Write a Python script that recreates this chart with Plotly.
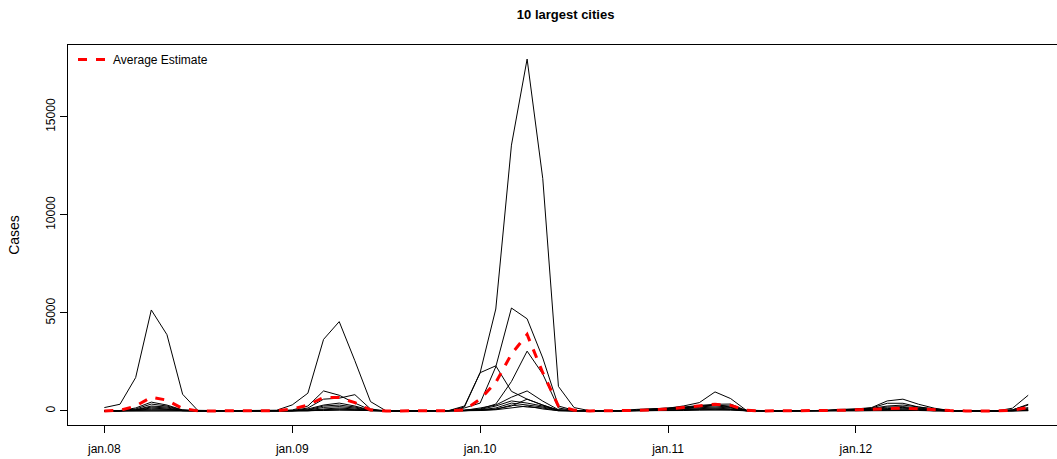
import plotly.graph_objects as go

# ---- data (monthly cases, jan.08 .. dec.12) ----
months = [f"{m}.{y:02d}" for y in range(8, 13) for m in
          ["jan", "feb", "mar", "apr", "may", "jun", "jul", "aug", "sep", "oct", "nov", "dec"]]
tick_labels = ["jan.08", "jan.09", "jan.10", "jan.11", "jan.12"]
tick_positions = ["jan.08", "jan.09", "jan.10", "jan.11", "jan.12"]
y_ticks = [0, 5000, 10000, 15000]

city_1 = [170, 340, 1700, 5150, 3890, 850, 0, 0, 0, 0, 0, 35,
          307, 905, 3650, 4555, 2560, 475, 0, 0, 0, 0, 20, 250,
          1950, 5200, 13560, 17950, 11850, 1250, 170, 10, 0, 0, 30, 60,
          120, 160, 220, 300, 250, 30, 0, 0, 0, 0, 20, 60,
          90, 130, 250, 300, 200, 100, 20, 0, 0, 0, 60, 300]
city_2 = [0, 20, 150, 450, 300, 50, 0, 0, 0, 0, 0, 10,
          50, 250, 1020, 800, 400, 50, 0, 0, 0, 0, 10, 150,
          400, 2250, 5250, 4700, 2700, 250, 30, 0, 0, 20, 80, 120,
          140, 255, 425, 970, 630, 30, 0, 0, 0, 0, 30, 80,
          100, 170, 510, 600, 340, 140, 20, 0, 0, 0, 140, 800]
city_3 = [0, 10, 100, 350, 250, 40, 0, 0, 0, 0, 0, 5,
          20, 150, 600, 650, 830, 100, 0, 0, 0, 0, 0, 50,
          100, 350, 1500, 3050, 1880, 150, 20, 0, 0, 10, 50, 100,
          130, 200, 280, 340, 350, 20, 0, 0, 0, 0, 10, 50,
          80, 150, 390, 390, 200, 80, 10, 0, 0, 0, 50, 340]
city_4 = [0, 5, 60, 250, 200, 30, 0, 0, 0, 0, 0, 0,
          10, 100, 300, 400, 250, 40, 0, 0, 0, 0, 0, 200,
          1950, 2300, 1000, 600, 300, 50, 10, 0, 0, 0, 40, 90,
          110, 170, 250, 300, 200, 20, 0, 0, 0, 0, 10, 40,
          60, 100, 200, 220, 150, 60, 10, 0, 0, 0, 30, 170]
city_5 = [0, 5, 50, 200, 150, 20, 0, 0, 0, 0, 0, 0,
          5, 60, 250, 300, 200, 30, 0, 0, 0, 0, 0, 30,
          150, 300, 700, 1020, 500, 60, 10, 0, 0, 0, 20, 50,
          80, 140, 200, 260, 180, 20, 0, 0, 0, 0, 10, 30,
          50, 80, 150, 180, 120, 40, 0, 0, 0, 0, 20, 120]
city_6 = [0, 0, 40, 150, 100, 15, 0, 0, 0, 0, 0, 0,
          5, 40, 180, 220, 150, 20, 0, 0, 0, 0, 0, 20,
          80, 250, 510, 400, 250, 40, 0, 0, 0, 0, 20, 40,
          60, 110, 160, 200, 150, 10, 0, 0, 0, 0, 5, 20,
          40, 60, 120, 140, 100, 30, 0, 0, 0, 0, 10, 80]
city_7 = [0, 0, 30, 100, 80, 10, 0, 0, 0, 0, 0, 0,
          0, 20, 100, 150, 100, 10, 0, 0, 0, 0, 0, 10,
          60, 150, 400, 300, 200, 30, 0, 0, 0, 0, 10, 30,
          40, 80, 120, 150, 100, 10, 0, 0, 0, 0, 5, 15,
          30, 40, 80, 100, 70, 20, 0, 0, 0, 0, 10, 50]
city_8 = [0, 0, 20, 60, 50, 5, 0, 0, 0, 0, 0, 0,
          0, 10, 60, 100, 60, 10, 0, 0, 0, 0, 0, 10,
          40, 100, 250, 600, 300, 20, 0, 0, 0, 0, 5, 20,
          30, 60, 90, 110, 80, 5, 0, 0, 0, 0, 5, 10,
          20, 30, 60, 70, 50, 10, 0, 0, 0, 0, 5, 30]
city_9 = [0, 0, 10, 30, 25, 5, 0, 0, 0, 0, 0, 0,
          0, 5, 40, 60, 40, 5, 0, 0, 0, 0, 0, 5,
          30, 80, 300, 200, 150, 10, 0, 0, 0, 0, 5, 10,
          20, 40, 60, 80, 60, 5, 0, 0, 0, 0, 0, 10,
          10, 20, 40, 50, 30, 10, 0, 0, 0, 0, 5, 20]
city_10 = [0, 0, 5, 20, 15, 0, 0, 0, 0, 0, 0, 0,
           0, 5, 20, 40, 30, 5, 0, 0, 0, 0, 0, 5,
           20, 60, 150, 250, 100, 10, 0, 0, 0, 0, 0, 5,
           10, 20, 40, 50, 40, 5, 0, 0, 0, 0, 0, 5,
           5, 10, 20, 30, 20, 5, 0, 0, 0, 0, 0, 10]
cities = [city_1, city_2, city_3, city_4, city_5,
          city_6, city_7, city_8, city_9, city_10]
city_names = [f"City {k}" for k in range(1, 11)]

average_estimate = [0, 30, 250, 700, 550, 120, 0, 0, 0, 0, 0, 10,
                    100, 300, 690, 680, 420, 50, 0, 0, 0, 0, 10, 50,
                    600, 1450, 2900, 3900, 1950, 250, 40, 0, 0, 10, 30, 60,
                    100, 180, 270, 340, 280, 30, 0, 0, 0, 0, 10, 30,
                    60, 90, 120, 140, 110, 60, 20, 0, 0, 0, 40, 170]

FONT = "Liberation Sans, Arial, Helvetica, sans-serif"
idx = list(range(len(months)))

fig = go.Figure()
for name, vals in zip(city_names, cities):
    fig.add_trace(go.Scatter(x=idx, y=vals, mode="lines", name=name,
                             line=dict(color="black", width=1),
                             showlegend=False, hoverinfo="skip"))
fig.add_trace(go.Scatter(x=idx, y=average_estimate, mode="lines",
                         name="Average Estimate",
                         line=dict(color="#ff0000", width=3, dash="9px,9px"),
                         showlegend=True))

tickvals = [months.index(t) for t in tick_positions]

fig.update_layout(
    width=1057, height=459,
    margin=dict(l=68, r=0, t=45, b=34),
    paper_bgcolor="white", plot_bgcolor="white",
    font=dict(family=FONT, size=12, color="black"),
    title=dict(text="<b>10 largest cities</b>", font=dict(size=13, family=FONT),
               x=565.6 / 1057, xref="container", xanchor="center",
               y=1 - 14 / 459, yref="container", yanchor="middle"),
    legend=dict(x=5 / 989, y=1, xanchor="left", yanchor="top",
                bgcolor="rgba(0,0,0,0)", borderwidth=0,
                font=dict(size=12, family=FONT)),
    xaxis=dict(range=[-2.32, 60.84], tickmode="array", tickvals=tickvals,
               ticktext=tick_labels, showgrid=False, zeroline=False,
               showline=True, mirror=True, linecolor="black", linewidth=1,
               ticks="outside", ticklen=7, tickcolor="black", tickwidth=1,
               ticklabelstandoff=6),
    yaxis=dict(range=[-718, 18668], tickmode="array", tickvals=y_ticks,
               ticktext=[str(v) for v in y_ticks], tickangle=-90,
               showgrid=False, zeroline=False,
               showline=True, mirror=False, linecolor="black", linewidth=1,
               ticks="outside", ticklen=7, tickcolor="black", tickwidth=1,
               title=dict(text="Cases", standoff=21)),
)

fig.write_html("out.html")
